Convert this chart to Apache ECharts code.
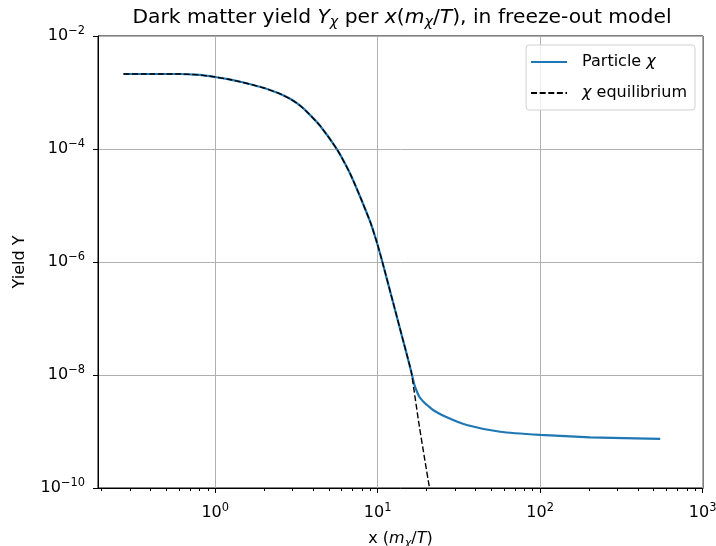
<!DOCTYPE html>
<html>
<head>
<meta charset="utf-8">
<script src="https://cdn.jsdelivr.net/npm/echarts@6/dist/echarts.min.js"></script>
<style>
  html, body { margin: 0; padding: 0; background: #fff; }
  #chart { width: 716px; height: 546px; }
</style>
</head>
<body>
<div id="chart"></div>
<script>
// Dark matter yield Y_chi against x = m_chi / T
const xChi = [0.2727, 0.398, 0.609, 0.753, 0.868, 1.0, 1.202, 1.425, 1.69, 2.0, 2.41, 2.62, 2.89, 3.20, 3.58, 4.43, 5.63, 6.77, 7.80, 8.99, 9.93, 10.66, 12.28, 14.15, 15.19, 16.08,
  16.77, 17.38, 18.0, 19.05, 20.46, 21.9, 26.0, 35.3, 56.7, 100, 203, 548];
const yChi = [2.125e-3, 2.125e-3, 2.125e-3, 2.07e-3, 1.99e-3, 1.88e-3, 1.72e-3, 1.55e-3, 1.37e-3, 1.20e-3, 9.92e-4, 8.92e-4, 7.73e-4, 6.41e-4, 4.88e-4, 2.56e-4, 9.73e-5, 3.66e-5, 1.43e-5, 5.16e-6, 2.13e-6, 1.03e-6, 2.22e-7, 4.72e-8, 2.18e-8, 1.15e-8,
  6.93e-9, 5.21e-9, 4.16e-9, 3.40e-9, 2.83e-9, 2.40e-9, 1.84e-9, 1.30e-9, 9.9e-10, 8.7e-10, 7.9e-10, 7.4e-10];

// Equilibrium yield
const xEq = [0.2727, 0.398, 0.609, 0.753, 0.868, 1.0, 1.202, 1.425, 1.69, 2.0, 2.41, 2.62, 2.89, 3.20, 3.58, 4.43, 5.63, 6.77, 7.80, 8.99, 9.93, 10.66, 12.28, 14.15, 15.19, 16.08,
  17.01, 18.0, 19.33, 20.84, 22.3];
const yEq = [2.125e-3, 2.125e-3, 2.125e-3, 2.07e-3, 1.99e-3, 1.88e-3, 1.72e-3, 1.55e-3, 1.37e-3, 1.20e-3, 9.92e-4, 8.92e-4, 7.73e-4, 6.41e-4, 4.88e-4, 2.56e-4, 9.73e-5, 3.66e-5, 1.43e-5, 5.16e-6, 2.13e-6, 1.03e-6, 2.22e-7, 4.72e-8, 2.18e-8, 1.15e-8,
  3.92e-9, 1.30e-9, 3.68e-10, 1.0e-10, 3.19e-11];

// Axis ranges and ticks
const xRange = [0.19, 1005];
const yRange = [1e-10, 1e-2];
const xMajorTicks = [1, 10, 100, 1000];
const xMinorTicks = [0.2, 0.3, 0.4, 0.5, 0.6, 0.7, 0.8, 0.9, 2, 3, 4, 5, 6, 7, 8, 9,
  20, 30, 40, 50, 60, 70, 80, 90, 200, 300, 400, 500, 600, 700, 800, 900];
const yMajorTicks = [1e-10, 1e-8, 1e-6, 1e-4, 1e-2];

const FONT = 'DejaVu Sans';
const BASE = 16;

function powLabel(v) {
  const e = Math.round(Math.log10(v));
  return '10{sup|' + (e < 0 ? '\u2212' + (-e) : String(e)) + '}';
}
const powRich = {
  sup: { fontSize: 11.4, fontFamily: FONT, color: '#000', padding: [0, 0, 9, 0] }
};
const mathRich = (size) => ({
  i: { fontSize: size, fontFamily: FONT, fontStyle: 'italic', color: '#000' },
  sub: { fontSize: size * 0.7, fontFamily: FONT, fontStyle: 'italic', color: '#000', padding: [size * 0.45, 0, 0, 0] }
});

const chart = echarts.init(document.getElementById('chart'), null, { renderer: 'canvas' });

chart.setOption({
  animation: false,
  backgroundColor: '#fff',
  textStyle: { fontFamily: FONT },
  title: {
    text: 'Dark matter yield {i|Y}{sub|\u03C7} per {i|x}({i|m}{sub|\u03C7}/{i|T}), in freeze-out model',
    left: 397,
    textAlign: 'center',
    top: 1,
    textStyle: { fontFamily: FONT, fontSize: 20.3, fontWeight: 'normal', color: '#000', rich: mathRich(20.3) }
  },
  grid: {
    left: 98, right: 13, top: 36, bottom: 58,
    outerBoundsMode: 'none', containLabel: false,
    show: true, borderColor: '#000', borderWidth: 1, backgroundColor: 'transparent'
  },
  legend: {
    orient: 'vertical',
    right: 21,
    top: 45,
    padding: [7, 8, 7, 4],
    itemWidth: 36,
    itemHeight: 14,
    itemGap: 11,
    backgroundColor: 'rgba(255,255,255,0.8)',
    borderColor: '#d0d0d0',
    borderWidth: 1,
    borderRadius: 3,
    itemStyle: { opacity: 0 },
    textStyle: { fontFamily: FONT, fontSize: BASE, color: '#000', lineHeight: 20, padding: [0, 0, 0, 10],
      rich: { i: { fontSize: BASE, fontFamily: FONT, fontStyle: 'italic', color: '#000' } } },
    formatter: (name) => name === 'Particle' ? 'Particle {i|\u03C7}' : '{i|\u03C7} equilibrium',
    data: ['Particle', 'Equilibrium']
  },
  xAxis: [
    {
      type: 'log', logBase: 10, min: xRange[0], max: xRange[1], position: 'bottom',
      name: 'x ({i|m}{sub|\u03C7}/{i|T})',
      nameLocation: 'middle', nameGap: 42,
      nameTextStyle: { fontFamily: FONT, fontSize: BASE, color: '#000', rich: mathRich(BASE) },
      axisLine: { show: true, onZero: false, lineStyle: { color: '#000', width: 1 } },
      axisTick: { show: true, inside: false, length: 5, customValues: xMajorTicks, lineStyle: { color: '#000', width: 1 } },
      axisLabel: { show: true, customValues: xMajorTicks, formatter: powLabel, margin: 15,
        fontFamily: FONT, fontSize: BASE, color: '#000', rich: powRich },
      splitLine: { show: true, lineStyle: { color: '#b0b0b0', width: 1 } }
    },
    {
      type: 'log', logBase: 10, min: xRange[0], max: xRange[1], position: 'bottom',
      axisLine: { show: false, onZero: false },
      axisTick: { show: true, inside: false, length: 3, customValues: xMinorTicks, lineStyle: { color: '#000', width: 1 } },
      axisLabel: { show: false },
      splitLine: { show: false }
    }
  ],
  yAxis: {
    type: 'log', logBase: 10, min: yRange[0], max: yRange[1], interval: 2,
    name: 'Yield Y', nameLocation: 'middle', nameGap: 70, nameRotate: 90,
    nameTextStyle: { fontFamily: FONT, fontSize: BASE, color: '#000' },
    axisLine: { show: true, onZero: false, lineStyle: { color: '#000', width: 1 } },
    axisTick: { show: true, inside: false, length: 5, customValues: yMajorTicks, lineStyle: { color: '#000', width: 1 } },
    axisLabel: { show: true, customValues: yMajorTicks, formatter: powLabel, margin: 13,
      fontFamily: FONT, fontSize: BASE, color: '#000', rich: powRich },
    splitLine: { show: true, lineStyle: { color: '#b0b0b0', width: 1 } }
  },
  series: [
    {
      name: 'Particle', type: 'line', xAxisIndex: 0,
      data: xChi.map((x, k) => [x, yChi[k]]),
      symbol: 'none', smooth: 0.2, clip: true,
      lineStyle: { color: '#1f77b4', width: 2.2 },
      itemStyle: { color: '#1f77b4' },
      z: 3
    },
    {
      name: 'Equilibrium', type: 'line', xAxisIndex: 1,
      data: xEq.map((x, k) => [x, yEq[k]]),
      symbol: 'none', smooth: 0.2, clip: true,
      lineStyle: { color: '#000', width: 1.4, type: [6, 2.6] },
      itemStyle: { color: '#000' },
      z: 4
    }
  ]
});
</script>
</body>
</html>
